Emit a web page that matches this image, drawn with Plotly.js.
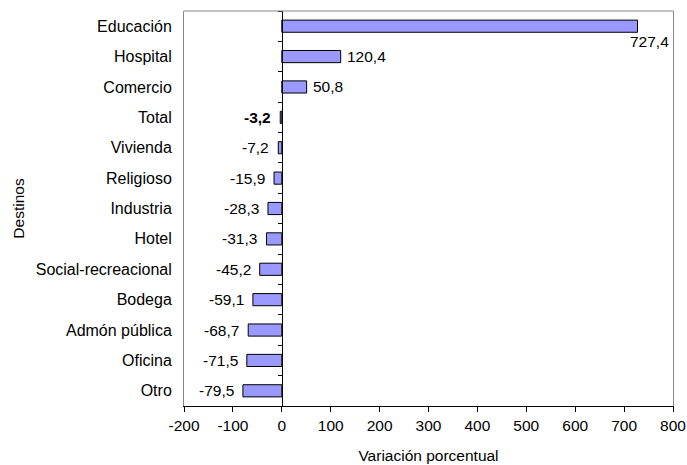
<!DOCTYPE html>
<html>
<head>
<meta charset="utf-8">
<script src="https://cdn.plot.ly/plotly-3.0.1.min.js"></script>
<style>html,body{margin:0;padding:0;background:#fff;}</style>
</head>
<body>
<div id="chart" style="width:687px;height:465px;"></div>
<script>
const categories = ["Educación","Hospital","Comercio","Total","Vivienda","Religioso","Industria","Hotel","Social-recreacional","Bodega","Admón pública","Oficina","Otro"];
const values = [727.4,120.4,50.8,-3.2,-7.2,-15.9,-28.3,-31.3,-45.2,-59.1,-68.7,-71.5,-79.5];
const xTicks = [-200,-100,0,100,200,300,400,500,600,700,800];

const FONT = "Liberation Sans, Arial, sans-serif";
const fmt = v => v.toFixed(1).replace('.', ',');
const yRange = [categories.length - 0.5, -0.5];

const bars = {
  type: 'bar', orientation: 'h',
  x: values, y: categories,
  width: 0.4,
  marker: {color: '#9999FF', line: {color: '#000000', width: 1}},
  hoverinfo: 'skip'
};
const ghost = {
  type: 'scatter', mode: 'markers',
  x: values, y: categories, yaxis: 'y2',
  marker: {opacity: 0}, hoverinfo: 'skip', showlegend: false
};

const annotations = values.map((v, i) => {
  const a = {
    x: v, y: categories[i], xref: 'x', yref: 'y',
    text: fmt(v), showarrow: false,
    font: {family: FONT, size: 15.5, color: '#000'},
    yanchor: 'middle'
  };
  if (categories[i] === 'Educación') {
    a.xanchor = 'left'; a.xshift = -10; a.yshift = -15;
  } else if (v >= 0) {
    a.xanchor = 'left'; a.xshift = 4;
  } else {
    a.xanchor = 'right'; a.xshift = -7;
  }
  if (categories[i] === 'Total') {
    a.text = '<b>' + fmt(v) + '</b>';
    a.xshift = -7;
  }
  return a;
});

const layout = {
  width: 687, height: 465,
  margin: {l: 184, r: 14, t: 11, b: 59},
  paper_bgcolor: '#fff', plot_bgcolor: '#fff',
  showlegend: false,
  font: {family: FONT, size: 15, color: '#000'},
  xaxis: {
    range: [-200, 800], tickvals: xTicks, ticktext: xTicks.map(String),
    showgrid: false, zeroline: false,
    showline: true, linecolor: '#000', linewidth: 1,
    ticks: 'outside', ticklen: 5, tickcolor: '#000',
    tickfont: {family: FONT, size: 15.5},
    title: {text: 'Variación porcentual', font: {family: FONT, size: 15.5}, standoff: 17}
  },
  yaxis: {
    type: 'category', categoryorder: 'array', categoryarray: categories,
    range: yRange,
    showgrid: false, zeroline: false,
    showline: true, mirror: true, linecolor: '#888', linewidth: 1,
    ticks: '', ticklabelstandoff: 8,
    tickfont: {family: FONT, size: 16},
    title: {text: 'Destinos', font: {family: FONT, size: 15.5}, standoff: 7}
  },
  yaxis2: {
    type: 'category', categoryorder: 'array', categoryarray: categories,
    range: yRange,
    overlaying: 'y', anchor: 'free', position: 0.2, side: 'left',
    showgrid: false, zeroline: false,
    showline: true, linecolor: '#000', linewidth: 1,
    ticks: 'outside', ticklen: 4, tickcolor: '#000', tickson: 'boundaries',
    showticklabels: false
  },
  shapes: [{
    type: 'line', xref: 'paper', yref: 'paper', x0: 0, x1: 1, y0: 1, y1: 1,
    line: {color: '#888', width: 1}
  }],
  annotations: annotations,
  bargap: 0.6
};

Plotly.newPlot('chart', [bars, ghost], layout, {displayModeBar: false, staticPlot: true});
</script>
</body>
</html>
